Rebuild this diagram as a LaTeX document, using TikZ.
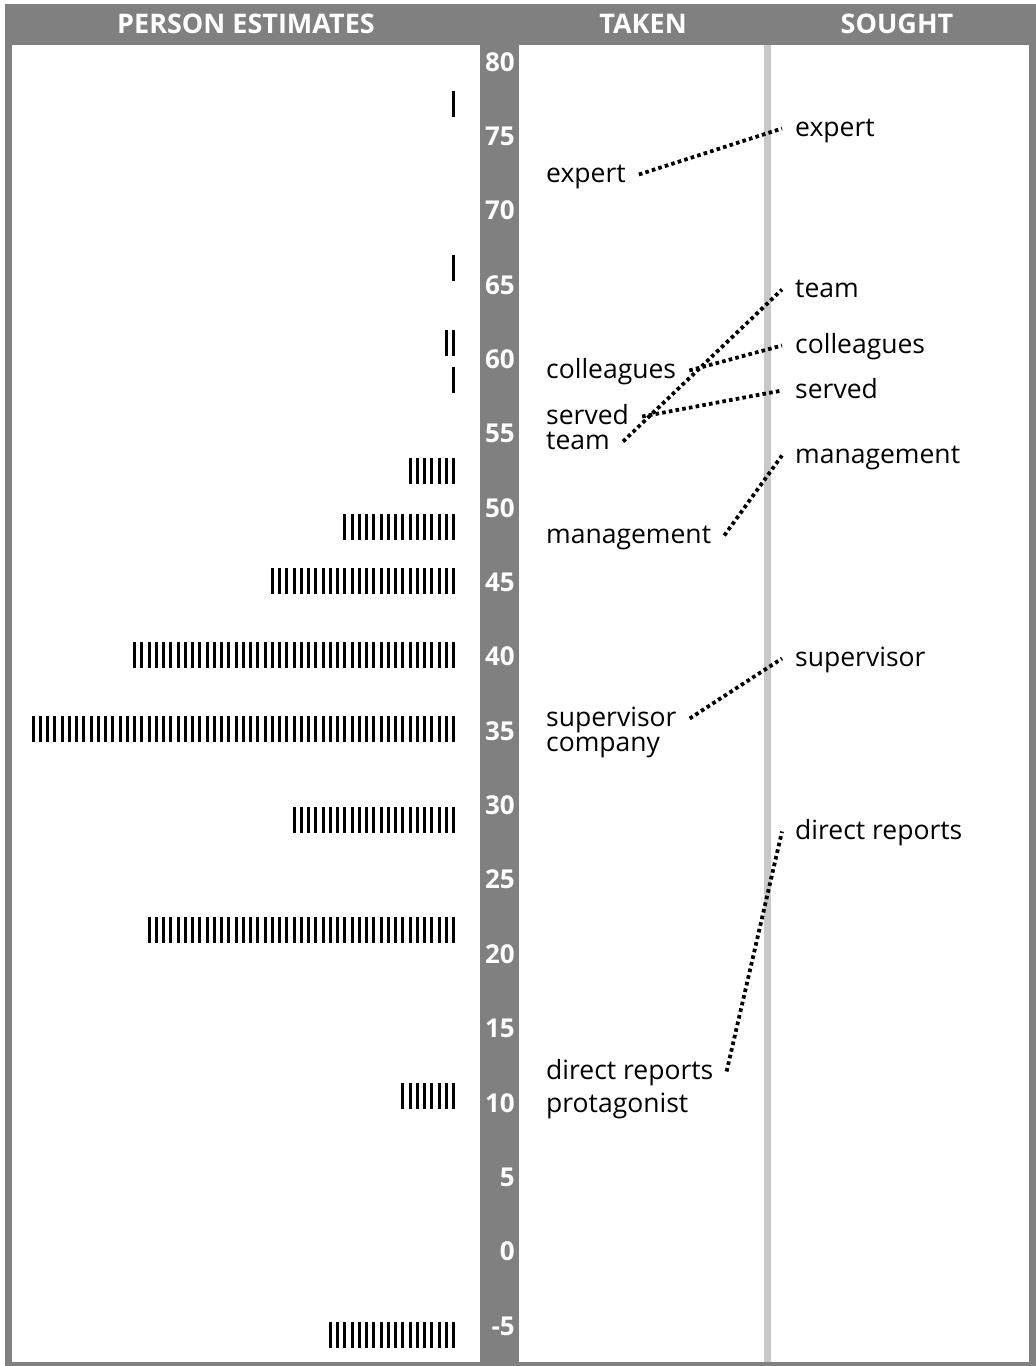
\documentclass[tikz,border=0pt]{standalone}
\usepackage{fontspec}
\setmainfont{Open Sans}
\definecolor{framegray}{HTML}{808080}
\definecolor{divgray}{HTML}{C8C8C8}
\newcommand\tallyrow[2]{%
  \foreach \i in {1,...,#2}{\fill[black] ({452-(\i-1)*7.25},{#1-13}) rectangle ++(3.2,26);}}
\begin{document}
\begin{tikzpicture}[x=1pt,y=-1pt,
  hdr/.style={text=white,inner sep=0pt,font=\fontsize{27}{30}\selectfont\bfseries},
  tick/.style={text=white,inner sep=0pt,anchor=base east,font=\fontsize{26}{29}\selectfont\bfseries},
  lbl/.style={font=\fontsize{26.5}{30}\selectfont,text height=20pt,text depth=5pt,inner xsep=13pt,inner ysep=0pt,anchor=base west},
  link/.style={line width=3.8pt,dash pattern=on 3.6pt off 3.2pt,black}]
\useasboundingbox (0,0) rectangle (1036,1366);
\fill[white] (0,0) rectangle (1036,1366);
% frame
\fill[framegray] (5,4) rectangle (1036,1366);
\fill[white] (12,45) rectangle (480,1362);
\fill[white] (519,45) rectangle (1029,1362);
\fill[divgray] (764,45) rectangle (770.5,1362);
% headers
\node[hdr] (h1) at (246,24) {PERSON ESTIMATES};
\node[hdr] (h2) at (643,24) {TAKEN};
\node[hdr] (h3) at (897,24) {SOUGHT};
% axis
\foreach \v [count=\k from 0] in {80,75,...,-5}
  \node[tick] (ax\k) at (515,{71+\k*74.36}) {\v};
% tallies
\tallyrow{103.5}{1}
\tallyrow{268}{1}
\tallyrow{342.5}{2}
\tallyrow{379.5}{1}
\tallyrow{471}{7}
\tallyrow{526.5}{16}
\tallyrow{581}{26}
\tallyrow{655}{45}
\tallyrow{728.7}{59}
\tallyrow{820}{23}
\tallyrow{930}{43}
\tallyrow{1096}{8}
\tallyrow{1335}{18}
% taken labels
\node[lbl] (t-expert) at (533,182) {expert};
\node[lbl] (t-colleagues) at (533,378) {colleagues};
\node[lbl] (t-served) at (533,424) {served};
\node[lbl] (t-team) at (533,449) {team};
\node[lbl] (t-management) at (533,543) {management};
\node[lbl] (t-supervisor) at (533,726) {supervisor};
\node[lbl] (t-company) at (533,751) {company};
\node[lbl] (t-direct) at (533,1079) {direct reports};
\node[lbl] (t-protagonist) at (533,1112) {protagonist};
% sought labels
\node[lbl] (s-expert) at (782,136) {expert};
\node[lbl] (s-team) at (782,297) {team};
\node[lbl] (s-colleagues) at (782,353) {colleagues};
\node[lbl] (s-served) at (782,398) {served};
\node[lbl] (s-management) at (782,463) {management};
\node[lbl] (s-supervisor) at (782,666) {supervisor};
\node[lbl] (s-direct) at (782,839) {direct reports};
% links
\draw[link] (t-expert.east) -- (s-expert.west);
\draw[link] (t-team.east) -- (s-team.west);
\draw[link] (t-colleagues.east) -- (s-colleagues.west);
\draw[link] (t-served.east) -- (s-served.west);
\draw[link] (t-management.east) -- (s-management.west);
\draw[link] (t-supervisor.east) -- (s-supervisor.west);
\draw[link] (t-direct.east) -- (s-direct.west);
\end{tikzpicture}
\end{document}
